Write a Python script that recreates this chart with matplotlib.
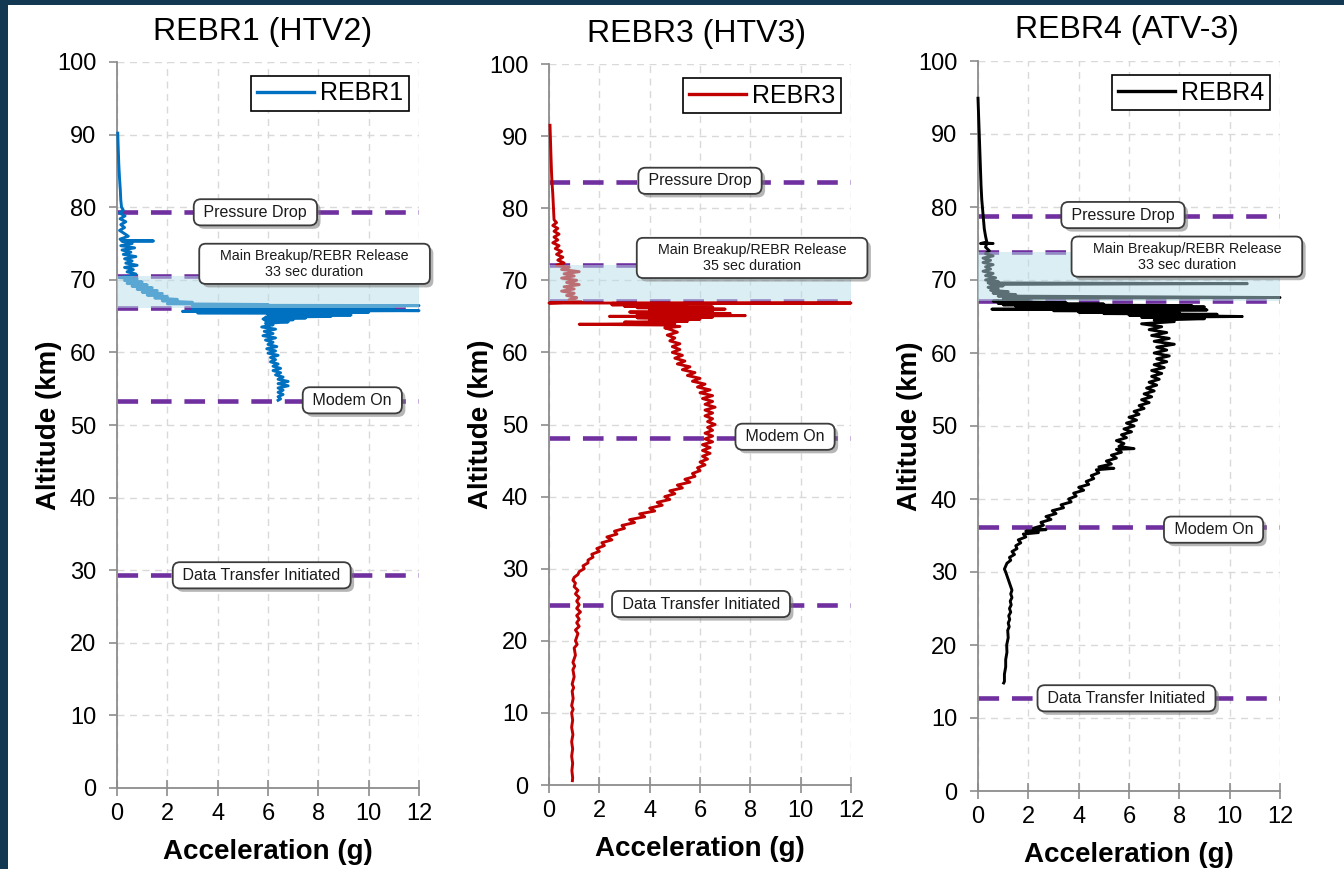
import matplotlib.pyplot as plt
import numpy as np
from matplotlib.patches import Rectangle
import matplotlib.patheffects as pe

plt.rcParams['font.family'] = ['Liberation Sans', 'DejaVu Sans']

# Datos: (altitud km, aceleracion g)
rebr1_trace = np.array([
    [90.2, 0.03], [88.0, 0.05], [86.0, 0.07], [84.0, 0.10], [82.5, 0.13], [81.0, 0.15],
    [80.0, 0.18], [79.6, 0.25], [79.2, 0.10], [78.8, 0.32], [78.4, 0.12], [78.0, 0.35],
    [77.6, 0.15], [77.2, 0.30], [76.8, 0.10], [76.4, 0.28], [76.0, 0.45], [75.6, 0.12],
    [75.4, 0.20], [75.35, 1.45], [75.3, 0.20], [75.0, 0.60], [74.7, 0.15], [74.4, 0.70],
    [74.1, 0.20], [73.8, 0.55], [73.5, 0.25], [73.2, 0.75], [72.9, 0.30], [72.6, 0.60],
    [72.3, 0.35], [72.0, 0.80], [71.7, 0.30], [71.4, 0.65], [71.1, 0.40], [70.8, 0.75],
    [70.5, 0.50], [70.3, 0.10], [70.1, 0.80], [69.9, 0.30], [69.7, 1.00], [69.5, 0.40],
    [69.3, 1.20], [69.1, 0.60], [68.9, 1.40], [68.7, 0.80], [68.5, 1.60], [68.3, 1.00],
    [68.1, 1.80], [67.9, 1.20], [67.7, 2.00], [67.5, 1.50], [67.3, 2.40], [67.1, 1.80],
    [66.9, 3.00], [66.7, 2.00], [66.6, 6.00], [66.5, 3.00], [66.45, 12.0], [66.35, 4.00],
    [66.2, 9.00], [66.1, 3.00], [66.0, 11.0], [65.9, 5.00], [65.75, 12.0], [65.65, 2.60],
    [65.55, 10.0], [65.45, 3.20], [65.35, 8.50], [65.25, 6.00], [65.15, 9.30], [65.05, 6.20],
    [64.95, 8.50], [64.85, 5.90], [64.75, 7.50], [64.6, 5.80], [64.5, 7.00], [64.35, 5.90],
    [64.2, 6.80], [64.0, 5.90], [63.8, 6.20], [63.5, 5.75], [63.2, 6.30], [62.9, 5.85],
    [62.6, 6.20], [62.3, 5.80], [62.0, 6.30], [61.7, 5.90], [61.4, 6.20], [61.1, 6.00],
    [60.8, 6.35], [60.5, 5.95], [60.2, 6.30], [59.9, 6.00], [59.6, 6.40], [59.3, 6.10],
    [59.0, 6.30], [58.7, 6.10], [58.4, 6.40], [58.1, 6.20], [57.8, 6.50], [57.5, 6.20],
    [57.2, 6.50], [56.9, 6.30], [56.6, 6.60], [56.3, 6.40], [56.0, 6.80], [55.7, 6.40],
    [55.4, 6.80], [55.1, 6.40], [54.8, 6.60], [54.5, 6.40], [54.2, 6.60], [53.9, 6.40],
    [53.6, 6.50], [53.4, 6.40],
])

rebr3_trace = np.array([
    [91.5, 0.04], [89.0, 0.06], [87.0, 0.08], [85.0, 0.10], [83.5, 0.12], [82.0, 0.15],
    [80.0, 0.18], [78.4, 0.20], [78.0, 0.30], [77.6, 0.15], [77.2, 0.35], [76.8, 0.20],
    [76.4, 0.40], [76.0, 0.20], [75.6, 0.35], [75.2, 0.15], [74.8, 0.40], [74.4, 0.25],
    [74.0, 0.50], [73.6, 0.30], [73.2, 0.55], [72.8, 0.35], [72.4, 0.60], [72.1, 0.30],
    [71.8, 0.80], [71.5, 0.50], [71.2, 1.20], [70.9, 0.60], [70.6, 1.00], [70.3, 0.50],
    [70.0, 1.10], [69.7, 0.70], [69.4, 1.20], [69.1, 0.60], [68.8, 1.00], [68.5, 0.50],
    [68.2, 1.00], [67.9, 0.70], [67.6, 1.10], [67.3, 0.80], [67.0, 1.30], [66.85, 0.00],
    [66.85, 12.0], [66.8, 2.50], [66.7, 4.00], [66.6, 2.50], [66.5, 5.50], [66.4, 3.00],
    [66.3, 6.50], [66.2, 3.50], [66.0, 7.00], [65.9, 4.00], [65.7, 6.50], [65.6, 3.20],
    [65.4, 7.20], [65.3, 3.50], [65.1, 7.80], [65.0, 2.40], [64.9, 6.50], [64.8, 3.50],
    [64.6, 6.00], [64.5, 4.00], [64.3, 5.50], [64.2, 3.00], [64.0, 5.00], [63.9, 1.20],
    [63.8, 4.50], [63.6, 5.20], [63.4, 4.60], [63.2, 4.80], [62.8, 5.10], [62.4, 4.70],
    [62.0, 5.00], [61.6, 4.80], [61.2, 5.20], [60.8, 4.90], [60.4, 5.20], [60.0, 4.90],
    [59.6, 5.30], [59.2, 5.00], [58.8, 5.40], [58.4, 5.10], [58.0, 5.60], [57.6, 5.30],
    [57.2, 5.80], [56.8, 5.50], [56.4, 6.00], [56.0, 5.70], [55.6, 6.20], [55.2, 5.90],
    [54.8, 6.40], [54.4, 6.00], [54.0, 6.50], [53.6, 6.10], [53.2, 6.50], [52.8, 6.20],
    [52.4, 6.60], [52.0, 6.20], [51.6, 6.50], [51.2, 6.20], [50.8, 6.50], [50.4, 6.30],
    [50.0, 6.60], [49.6, 6.30], [49.2, 6.50], [48.8, 6.20], [48.4, 6.50], [48.0, 6.20],
    [47.6, 6.50], [47.2, 6.10], [46.8, 6.40], [46.4, 6.10], [46.0, 6.40], [45.6, 6.10],
    [45.2, 6.30], [44.8, 6.00], [44.4, 6.20], [44.0, 5.90], [43.6, 6.00], [43.2, 5.70],
    [42.8, 5.80], [42.4, 5.40], [42.0, 5.60], [41.6, 5.10], [41.2, 5.30], [40.8, 4.80],
    [40.4, 5.00], [40.0, 4.60], [39.6, 4.80], [39.2, 4.30], [38.8, 4.50], [38.4, 4.00],
    [38.0, 4.20], [37.6, 3.60], [37.2, 3.80], [36.8, 3.20], [36.4, 3.40], [36.0, 2.90],
    [35.6, 3.00], [35.2, 2.60], [34.8, 2.70], [34.4, 2.30], [34.0, 2.50], [33.6, 2.10],
    [33.2, 2.20], [32.8, 1.90], [32.4, 2.00], [32.0, 1.70], [31.6, 1.75], [31.2, 1.55],
    [30.8, 1.55], [30.4, 1.35], [30.0, 1.40], [29.6, 1.20], [29.2, 1.15], [28.8, 1.00],
    [28.4, 0.95], [28.0, 1.05], [27.5, 1.00], [27.0, 1.15], [26.5, 1.05], [26.0, 1.20],
    [25.5, 1.10], [25.0, 1.20], [24.5, 1.10], [24.0, 1.25], [23.5, 1.10], [23.0, 1.20],
    [22.5, 1.10], [22.0, 1.20], [21.5, 1.05], [21.0, 1.15], [20.0, 1.05], [19.5, 1.12],
    [19.0, 1.00], [18.0, 1.05], [17.0, 0.95], [16.5, 1.02], [16.0, 0.95], [15.0, 1.00],
    [14.0, 0.92], [13.5, 0.98], [13.0, 0.92], [12.0, 0.96], [11.0, 0.90], [10.5, 0.96],
    [10.0, 0.90], [9.0, 0.94], [8.0, 0.90], [7.0, 0.95], [6.0, 0.90], [5.0, 0.94],
    [4.0, 0.90], [3.0, 0.94], [2.0, 0.91], [1.0, 0.94], [0.6, 0.93],
])

rebr4_trace = np.array([
    [94.9, 0.00], [93.0, 0.02], [91.0, 0.04], [89.0, 0.06], [87.0, 0.08], [85.0, 0.10],
    [83.0, 0.12], [81.0, 0.15], [79.0, 0.20], [77.0, 0.25], [76.0, 0.30], [75.2, 0.35],
    [75.0, 0.10], [75.0, 0.60], [75.05, 0.35], [74.5, 0.30], [74.0, 0.45], [73.6, 0.30],
    [73.3, 0.60], [73.0, 0.20], [72.7, 0.50], [72.4, 0.20], [72.1, 0.60], [71.8, 0.30],
    [71.5, 0.50], [71.2, 0.20], [70.9, 0.60], [70.6, 0.30], [70.3, 0.70], [70.0, 0.30],
    [69.8, 0.80], [69.6, 0.40], [69.5, 10.7], [69.4, 0.50], [69.2, 1.00], [69.0, 0.40],
    [68.8, 0.80], [68.6, 0.50], [68.4, 1.20], [68.2, 0.60], [68.0, 1.50], [67.8, 0.80],
    [67.6, 12.0], [67.5, 1.00], [67.3, 2.00], [67.1, 0.60], [66.9, 3.50], [66.8, 0.80],
    [66.7, 5.00], [66.6, 1.00], [66.5, 8.50], [66.4, 1.50], [66.3, 9.00], [66.2, 2.00],
    [66.1, 7.00], [66.0, 0.55], [65.9, 9.10], [65.8, 3.00], [65.7, 6.50], [65.6, 4.00],
    [65.5, 8.00], [65.4, 5.00], [65.3, 9.50], [65.2, 6.00], [65.0, 10.5], [64.9, 6.50],
    [64.7, 9.00], [64.5, 7.00], [64.3, 7.80], [64.0, 6.50], [63.6, 7.30], [63.2, 6.80],
    [62.8, 7.50], [62.4, 6.90], [62.0, 7.60], [61.6, 7.00], [61.2, 7.80], [60.8, 7.10],
    [60.4, 7.50], [60.0, 7.00], [59.6, 7.60], [59.2, 7.10], [58.8, 7.50], [58.4, 7.00],
    [58.0, 7.40], [57.6, 6.90], [57.2, 7.30], [56.8, 6.90], [56.4, 7.20], [56.0, 6.80],
    [55.6, 7.10], [55.2, 6.70], [54.8, 7.00], [54.4, 6.60], [54.0, 6.90], [53.6, 6.50],
    [53.2, 6.80], [52.8, 6.40], [52.4, 6.60], [52.0, 6.20], [51.6, 6.40], [51.2, 6.00],
    [50.8, 6.30], [50.4, 5.90], [50.0, 6.20], [49.6, 5.80], [49.2, 6.10], [48.8, 5.70],
    [48.4, 5.90], [48.0, 5.50], [47.6, 5.80], [47.2, 5.60], [46.9, 6.20], [46.8, 5.50],
    [46.4, 5.70], [46.0, 5.30], [45.6, 5.50], [45.2, 5.10], [44.8, 5.30], [44.4, 4.80],
    [44.2, 5.40], [44.0, 4.70], [43.6, 4.80], [43.2, 4.50], [42.8, 4.60], [42.4, 4.30],
    [42.0, 4.40], [41.6, 4.00], [41.2, 4.20], [40.8, 3.80], [40.4, 3.90], [40.0, 3.60],
    [39.6, 3.70], [39.2, 3.30], [38.8, 3.40], [38.4, 2.95], [38.0, 3.10], [37.6, 2.70],
    [37.2, 2.90], [36.8, 2.50], [36.4, 2.60], [36.0, 2.20], [35.8, 2.70], [35.6, 1.90],
    [35.4, 2.40], [35.2, 1.80], [34.8, 1.90], [34.4, 1.60], [34.0, 1.70], [33.6, 1.50],
    [33.2, 1.55], [32.8, 1.35], [32.4, 1.45], [32.0, 1.25], [31.6, 1.30], [31.2, 1.15],
    [30.8, 1.10], [30.4, 1.05], [30.0, 1.10], [29.5, 1.15], [29.0, 1.20], [28.5, 1.25],
    [28.0, 1.30], [27.5, 1.35], [27.0, 1.30], [26.5, 1.35], [26.0, 1.28], [25.5, 1.32],
    [25.0, 1.25], [24.5, 1.30], [24.0, 1.22], [23.5, 1.26], [23.0, 1.20], [22.5, 1.24],
    [22.0, 1.18], [21.0, 1.20], [20.0, 1.14], [19.0, 1.15], [18.0, 1.10], [17.0, 1.10],
    [16.0, 1.05], [15.0, 1.05], [14.8, 1.02],
])

titles = ['REBR1 (HTV2)', 'REBR3 (HTV3)', 'REBR4 (ATV-3)']
series_names = ['REBR1', 'REBR3', 'REBR4']
series_colors = ['#0070C0', '#C00000', '#000000']
durations = ['33 sec duration', '35 sec duration', '33 sec duration']

# altitudes de los eventos (km): presion, ruptura superior, ruptura inferior, modem, datos
pressure_drop = [79.3, 83.6, 78.8]
breakup_top = [70.5, 72.1, 73.8]
breakup_bottom = [66.1, 67.1, 67.1]
modem_on = [53.3, 48.1, 36.2]
data_transfer = [29.3, 25.0, 12.7]

x_ticks = [0, 2, 4, 6, 8, 10, 12]
y_ticks = [0, 10, 20, 30, 40, 50, 60, 70, 80, 90, 100]

traces = [rebr1_trace, rebr3_trace, rebr4_trace]

fig = plt.figure(figsize=(13.44, 8.69), dpi=100, facecolor='#123852')
fig.patches.append(Rectangle((8 / 1344, 0), 1, 1 - 5 / 869, transform=fig.transFigure,
                             facecolor='white', edgecolor='none', zorder=-5))

# posicion de cada panel en pixeles: izquierda, arriba, abajo
panel_px = [(117, 62, 788), (549, 64, 785), (978, 61, 791)]
title_px = [(263, 40), (696, 42), (1127, 38)]

# posiciones de las etiquetas (x en g, y en km)
label_pos = [
    [(5.5, 79.3), (7.85, 72.2), (9.35, 53.4), (5.75, 29.3)],
    [(6.0, 83.8), (8.07, 73.1), (9.38, 48.3), (6.04, 25.1)],
    [(5.76, 78.9), (8.3, 73.2), (9.36, 35.8), (5.9, 12.7)],
]

sombra = [pe.SimplePatchShadow(offset=(2.5, -2.5), shadow_rgbFace='#7a7a7a', alpha=0.55),
          pe.Normal()]


def caja(ax, x, y, texto, fs):
    t = ax.text(x, y, texto, fontsize=fs, color='#1a1a1a', ha='center', va='center',
                multialignment='center', zorder=7,
                bbox=dict(boxstyle='round,pad=0.35,rounding_size=0.45', facecolor='white',
                          edgecolor='#3c3c3c', linewidth=1.3))
    t.get_bbox_patch().set_path_effects(sombra)


for i in range(3):
    left, top, bottom = panel_px[i]
    ax = fig.add_axes([left / 1344, 1 - bottom / 869, 302 / 1344, (bottom - top) / 869])
    ax.patch.set_alpha(0)
    ax.set_xlim(0, 12)
    ax.set_ylim(0, 100)
    ax.set_xticks(x_ticks)
    ax.set_yticks(y_ticks)
    ax.grid(True, color='#d9d9d9', linestyle=(0, (5, 4)), linewidth=1.0, zorder=0)
    ax.set_axisbelow(True)
    for s in ['top', 'right']:
        ax.spines[s].set_visible(False)
    for s in ['left', 'bottom']:
        ax.spines[s].set_color('#8c8c8c')
        ax.spines[s].set_linewidth(1.3)
    ax.tick_params(axis='y', direction='out', length=6, width=1.2, color='#8c8c8c',
                   labelsize=17, pad=9)
    ax.tick_params(axis='x', direction='inout', length=12, width=1.2, color='#8c8c8c',
                   labelsize=17, pad=5)

    # lineas de eventos
    for alt in [pressure_drop[i], breakup_top[i], breakup_bottom[i], modem_on[i], data_transfer[i]]:
        ax.axhline(alt, color='#7030A0', linewidth=3.3, dashes=(4.5, 2.8), zorder=2)

    tr = traces[i]
    ax.plot(tr[:, 1], tr[:, 0], color=series_colors[i], linewidth=2.1, zorder=3,
            label=series_names[i], clip_on=False)

    # zona sombreada de ruptura
    ax.axhspan(breakup_bottom[i], breakup_top[i], color='#B7DEE8', alpha=0.5, zorder=4,
               linewidth=0)

    leg = ax.legend(loc='upper right', bbox_to_anchor=(1 - 10 / 302, 1 - 14 / (bottom - top)),
                    borderaxespad=0, fontsize=18, fancybox=False, framealpha=1,
                    handlelength=2.3, handletextpad=0.25, borderpad=0.22)
    leg.get_frame().set_edgecolor('black')
    leg.get_frame().set_linewidth(1.2)
    for ln in leg.get_lines():
        ln.set_linewidth(2.4)
    leg.set_zorder(8)

    p = label_pos[i]
    caja(ax, p[0][0], p[0][1], ' Pressure Drop ', 11.5)
    caja(ax, p[1][0], p[1][1], '    Main Breakup/REBR Release    \n' + durations[i], 10.3)
    caja(ax, p[2][0], p[2][1], ' Modem On ', 11.5)
    caja(ax, p[3][0], p[3][1], ' Data Transfer Initiated ', 11.5)

    ax.set_xlabel('Acceleration (g)', fontsize=20, fontweight='bold', labelpad=10)
    ax.set_ylabel('Altitude (km)', fontsize=20, fontweight='bold', labelpad=-4)

    fig.text(title_px[i][0] / 1344, 1 - title_px[i][1] / 869, titles[i], fontsize=23,
             ha='center', va='baseline')

fig.savefig('out.png', dpi=100, facecolor=fig.get_facecolor())
